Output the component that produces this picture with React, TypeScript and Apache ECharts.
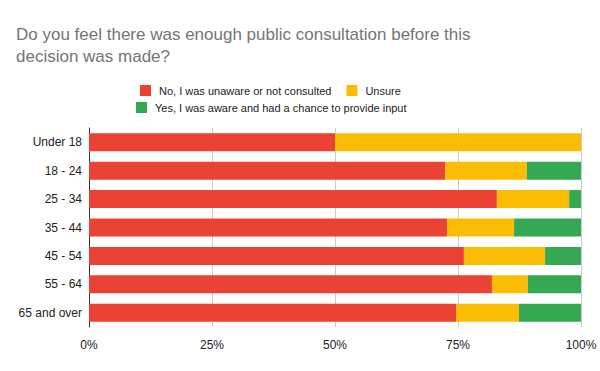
import React, { useEffect, useRef } from "react";
import * as echarts from "echarts";

const categories = ["Under 18", "18 - 24", "25 - 34", "35 - 44", "45 - 54", "55 - 64", "65 and over"];
const noValues = [50.0, 72.4, 82.9, 72.8, 76.2, 81.9, 74.6];
const unsureValues = [50.0, 16.6, 14.7, 13.6, 16.5, 7.3, 12.8];
const yesValues = [0.0, 11.0, 2.4, 13.6, 7.3, 10.8, 12.6];
const seriesNames = [
  "No, I was unaware or not consulted",
  "Unsure",
  "Yes, I was aware and had a chance to provide input",
];
const colors = ["#EA4335", "#FBBC04", "#34A853"];

export default function App() {
  const ref = useRef<HTMLDivElement>(null);
  useEffect(() => {
    if (!ref.current) return;
    const chart = echarts.init(ref.current, undefined, { renderer: "svg" });
    const values = [noValues, unsureValues, yesValues];
    const font = "Arial, 'Liberation Sans', sans-serif";
    const legendText = { fontFamily: font, fontSize: 11, color: "#222", padding: [0, 0, 0, 3] };
    chart.setOption({
      animation: false,
      color: colors,
      title: {
        text: "Do you feel there was enough public consultation before this\ndecision was made?",
        left: 11,
        top: 18,
        textStyle: {
          fontFamily: font,
          fontSize: 17,
          fontWeight: "normal",
          color: "#757575",
          lineHeight: 22,
        },
      },
      legend: [
        {
          data: [seriesNames[0], seriesNames[1]],
          left: 135,
          top: 80,
          itemWidth: 11,
          itemHeight: 11,
          itemGap: 15,
          icon: "rect",
          textStyle: legendText,
        },
        {
          data: [seriesNames[2]],
          left: 131,
          top: 97,
          itemWidth: 11,
          itemHeight: 11,
          icon: "rect",
          textStyle: legendText,
        },
      ],
      grid: { left: 89, right: 19, top: 128, bottom: 44, containLabel: false },
      xAxis: {
        type: "value",
        min: 0,
        max: 100,
        interval: 25,
        axisLine: { show: false },
        axisTick: { show: false },
        splitLine: { lineStyle: { color: "#cccccc" } },
        axisLabel: {
          formatter: (v: number) => v + "%",
          fontFamily: font,
          fontSize: 12,
          color: "#222",
          margin: 12,
        },
      },
      yAxis: {
        type: "category",
        data: categories,
        inverse: true,
        axisLine: { show: true, lineStyle: { color: "#333" } },
        axisTick: { show: false },
        axisLabel: { fontFamily: font, fontSize: 12, color: "#222", margin: 7 },
      },
      series: values.map((v, i) => ({
        name: seriesNames[i],
        type: "bar",
        stack: "total",
        barWidth: 18,
        data: v,
      })),
    });
    return () => chart.dispose();
  }, []);
  return <div ref={ref} style={{ width: 600, height: 371, position: "absolute", left: 0, top: 0 }} />;
}
